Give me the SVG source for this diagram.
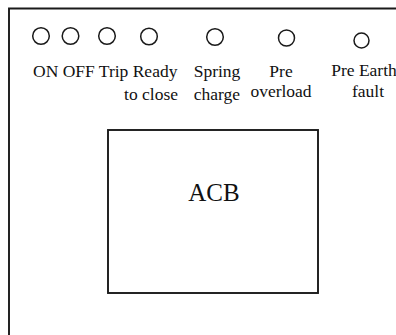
<svg xmlns="http://www.w3.org/2000/svg" width="396" height="335" viewBox="0 0 396 335">
  <style>
    .frame { fill: none; stroke: #1a1a1a; stroke-width: 1.9; }
    .lamp { fill: #ffffff; stroke: #1a1a1a; stroke-width: 1.5; }
    .lbl { font-family: "Liberation Serif", "Times New Roman", serif; font-size: 17.5px; fill: #111111; }
    .mid { text-anchor: middle; }
    .end { text-anchor: end; }
    .big { font-family: "Liberation Serif", "Times New Roman", serif; font-size: 25px; fill: #111111; text-anchor: middle; }
  </style>
  <rect width="396" height="335" fill="#ffffff"/>

  <!-- panel outline (open on the right and bottom) -->
  <g id="panel">
    <path class="frame" d="M9 335 V8.5 H396"/>
  </g>

  <!-- indicator lamps -->
  <g id="lamp-on"><circle class="lamp" cx="41" cy="36" r="8.3"/></g>
  <g id="lamp-off"><circle class="lamp" cx="70.5" cy="36" r="8.3"/></g>
  <g id="lamp-trip"><circle class="lamp" cx="107" cy="36" r="8.3"/></g>
  <g id="lamp-ready"><circle class="lamp" cx="149" cy="36.5" r="8.3"/></g>
  <g id="lamp-spring"><circle class="lamp" cx="215" cy="37" r="8.3"/></g>
  <g id="lamp-overload"><circle class="lamp" cx="286.5" cy="38" r="8"/></g>
  <g id="lamp-earth"><circle class="lamp" cx="361.5" cy="40.5" r="7.5"/></g>

  <!-- lamp labels -->
  <g id="labels">
    <text class="lbl" x="33" y="77">ON OFF Trip Ready</text>
    <text class="lbl end" x="178" y="100">to close</text>
    <text class="lbl mid" x="217" y="77">Spring</text>
    <text class="lbl mid" x="217" y="99.5">charge</text>
    <text class="lbl mid" x="281" y="76.5">Pre</text>
    <text class="lbl mid" x="281" y="96.5">overload</text>
    <text class="lbl mid" x="364" y="76">Pre Earth</text>
    <text class="lbl mid" x="368" y="96.5">fault</text>
  </g>

  <!-- breaker body -->
  <g id="acb">
    <rect class="frame" x="108" y="130" width="210" height="163"/>
    <text class="big" x="214" y="201">ACB</text>
  </g>
</svg>
